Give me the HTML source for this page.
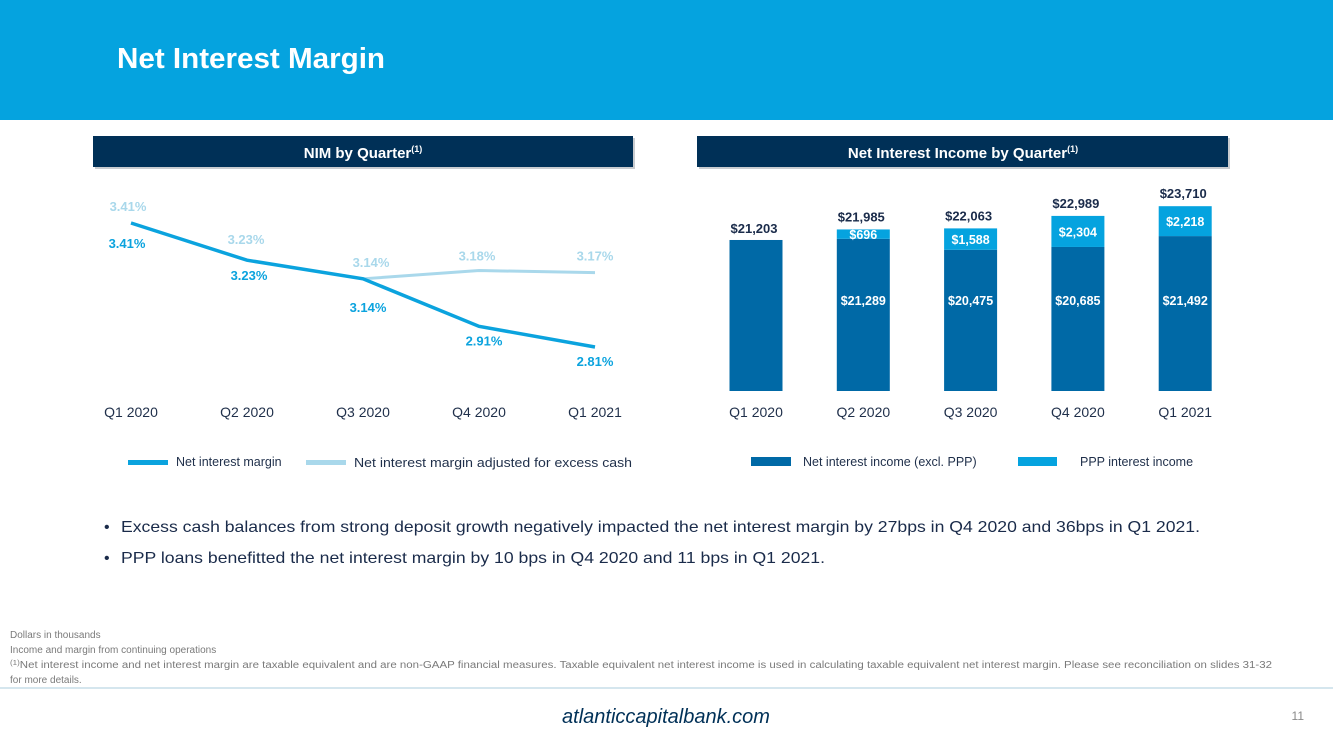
<!DOCTYPE html>
<html><head><meta charset="utf-8"><style>
html,body{margin:0;padding:0;background:#fff;}
svg{display:block;font-family:"Liberation Sans",Arial,sans-serif;}
</style></head><body>
<svg id="page" width="1333" height="750" viewBox="0 0 1333 750" xmlns="http://www.w3.org/2000/svg">
<rect x="0" y="0" width="1333" height="120" fill="#05A3DF"/>
<text x="117" y="68" fill="#fff" font-size="29" font-weight="bold" textLength="268" lengthAdjust="spacingAndGlyphs">Net Interest Margin</text>

<rect x="95" y="138" width="540" height="31" fill="#c9ccd0"/>
<rect x="93" y="136" width="540" height="31" fill="#003057"/>
<text x="363" y="158" fill="#fff" font-size="15" font-weight="bold" text-anchor="middle">NIM by Quarter<tspan font-size="9" dy="-6">(1)</tspan></text>
<rect x="699" y="138" width="531" height="31" fill="#c9ccd0"/>
<rect x="697" y="136" width="531" height="31" fill="#003057"/>
<text x="963" y="158" fill="#fff" font-size="15" font-weight="bold" text-anchor="middle">Net Interest Income by Quarter<tspan font-size="9" dy="-6">(1)</tspan></text>

<g id="line-chart"></g>
<g id="bar-chart"></g>

<rect x="128" y="460" width="40" height="5" fill="#0BA3DE"/>
<text x="176" y="466" font-size="12.5" fill="#1f2f4a">Net interest margin</text>
<rect x="306" y="460" width="40" height="5" fill="#A9D8EB"/>
<text x="354" y="467" font-size="12.5" fill="#1f2f4a" textLength="278" lengthAdjust="spacingAndGlyphs">Net interest margin adjusted  for excess cash</text>
<rect x="751" y="457" width="40" height="9" fill="#0069A6"/>
<text x="803" y="466" font-size="12.5" fill="#1f2f4a">Net interest income (excl. PPP)</text>
<rect x="1018" y="457" width="39" height="9" fill="#05A3DF"/>
<text x="1080" y="466" font-size="12.5" fill="#1f2f4a">PPP interest income</text>

<text x="104" y="532" font-size="16" fill="#1a2b4a">•<tspan x="121" textLength="1079" lengthAdjust="spacingAndGlyphs">Excess cash balances from strong deposit growth negatively impacted the net interest margin by 27bps in Q4 2020 and 36bps in Q1 2021.</tspan></text>
<text x="104" y="563" font-size="16" fill="#1a2b4a">•<tspan x="121" textLength="704" lengthAdjust="spacingAndGlyphs">PPP loans benefitted the net interest margin by 10 bps in Q4 2020 and 11 bps in Q1 2021.</tspan></text>

<g font-size="10" fill="#7a7a7a">
<text x="10" y="638">Dollars in thousands</text>
<text x="10" y="653">Income and margin from continuing operations</text>
<text x="10" y="668" textLength="1262" lengthAdjust="spacingAndGlyphs"><tspan font-size="7" dy="-3">(1)</tspan><tspan dy="3">Net interest income and net interest margin are taxable equivalent and are non-GAAP financial measures. Taxable equivalent net interest income is used in calculating taxable equivalent net interest margin. Please see reconciliation on slides 31-32</tspan></text>
<text x="10" y="683">for more details.</text>
</g>
<rect x="0" y="687" width="1333" height="2" fill="#d5e6ee"/>
<text x="666" y="723" font-size="20" font-style="italic" fill="#003057" text-anchor="middle">atlanticcapitalbank.com</text>
<text x="1304" y="720" font-size="12" fill="#8a8a8a" text-anchor="end">11</text>
</svg>
<script>
const quarters = ["Q1 2020","Q2 2020","Q3 2020","Q4 2020","Q1 2021"];
const nimValues = [3.41,3.23,3.14,2.91,2.81];
const nimLabels = ["3.41%","3.23%","3.14%","2.91%","2.81%"];
const adjValues = [3.41,3.23,3.14,3.18,3.17];
const adjLabels = ["3.41%","3.23%","3.14%","3.18%","3.17%"];
const niiExcl = [21203,21289,20475,20685,21492];
const pppValues = [0,696,1588,2304,2218];
const niiTotals = [21203,21985,22063,22989,23710];
const NS="http://www.w3.org/2000/svg";
function mk(t,a,parent,txt){const e=document.createElementNS(NS,t);for(const k in a)e.setAttribute(k,a[k]);if(txt!=null)e.textContent=txt;parent.appendChild(e);return e;}
// line chart
const lc=document.getElementById('line-chart');
const lx=i=>131+i*116;
const ly=v=>223+(3.41-v)*206.7;
const adjOff=[[-3,-12],[-1,-16],[8,-12],[-2,-10],[0,-12]];
const nimOff=[[-4,25],[2,20],[5,33],[5,19],[0,19]];
let d1="",d2="";
nimValues.forEach((v,i)=>{d1+=(i?"L":"M")+lx(i)+","+ly(v);});
adjValues.forEach((v,i)=>{if(i>=2)d2+=(i>2?"L":"M")+lx(i)+","+ly(v);});
const adjLine=mk('path',{d:d2,fill:'none',stroke:'#A9D8EB','stroke-width':3},lc);


const nimLine=mk('path',{d:d1,fill:'none',stroke:'#0BA3DE','stroke-width':3.5},lc);


adjValues.forEach((v,i)=>{
  const t=mk('text',{x:lx(i)+adjOff[i][0],y:ly(v)+adjOff[i][1],'font-size':13,'font-weight':'bold',fill:'#A9D8EB','text-anchor':'middle'},lc,adjLabels[i]);
  
  
});
nimValues.forEach((v,i)=>{
  const t=mk('text',{x:lx(i)+nimOff[i][0],y:ly(v)+nimOff[i][1],'font-size':13,'font-weight':'bold',fill:'#0BA3DE','text-anchor':'middle'},lc,nimLabels[i]);
  
  
});
quarters.forEach((q,i)=>{
  const t=mk('text',{x:lx(i),y:417,'font-size':14,fill:'#1f2f4a','text-anchor':'middle'},lc,q);
  
  
});
// bar chart
const bc=document.getElementById('bar-chart');
const bx=i=>756+i*107.3;
const by=v=>391-(v-10000)*0.01348;
const bw=53;
quarters.forEach((q,i)=>{
  const r=mk('rect',{x:bx(i)-bw/2,y:by(niiExcl[i]),width:bw,height:391-by(niiExcl[i]),fill:'#0069A6'},bc);
  
  
  if(pppValues[i]>0){
    const top=by(niiExcl[i]+pppValues[i]);
    const p=mk('rect',{x:bx(i)-bw/2,y:top,width:bw,height:by(niiExcl[i])-top,fill:'#05A3DF'},bc);
    
    
    const pl=mk('text',{x:bx(i),y:(top+by(niiExcl[i]))/2+5,'font-size':12.5,'font-weight':'bold',fill:'#fff','text-anchor':'middle'},bc,'$'+pppValues[i].toLocaleString('en-US'));
    
    
    const il=mk('text',{x:bx(i),y:305,'font-size':12.5,'font-weight':'bold',fill:'#fff','text-anchor':'middle'},bc,'$'+niiExcl[i].toLocaleString('en-US'));
    
    
  }
  const tl=mk('text',{x:bx(i)-2,y:by(niiTotals[i])-(pppValues[i]>0?8:7),'font-size':13,'font-weight':'bold',fill:'#1a2b4a','text-anchor':'middle'},bc,'$'+niiTotals[i].toLocaleString('en-US'));
  
  
  const xl=mk('text',{x:bx(i),y:417,'font-size':14,fill:'#1f2f4a','text-anchor':'middle'},bc,q);
  
  
});
</script>
</body></html>
